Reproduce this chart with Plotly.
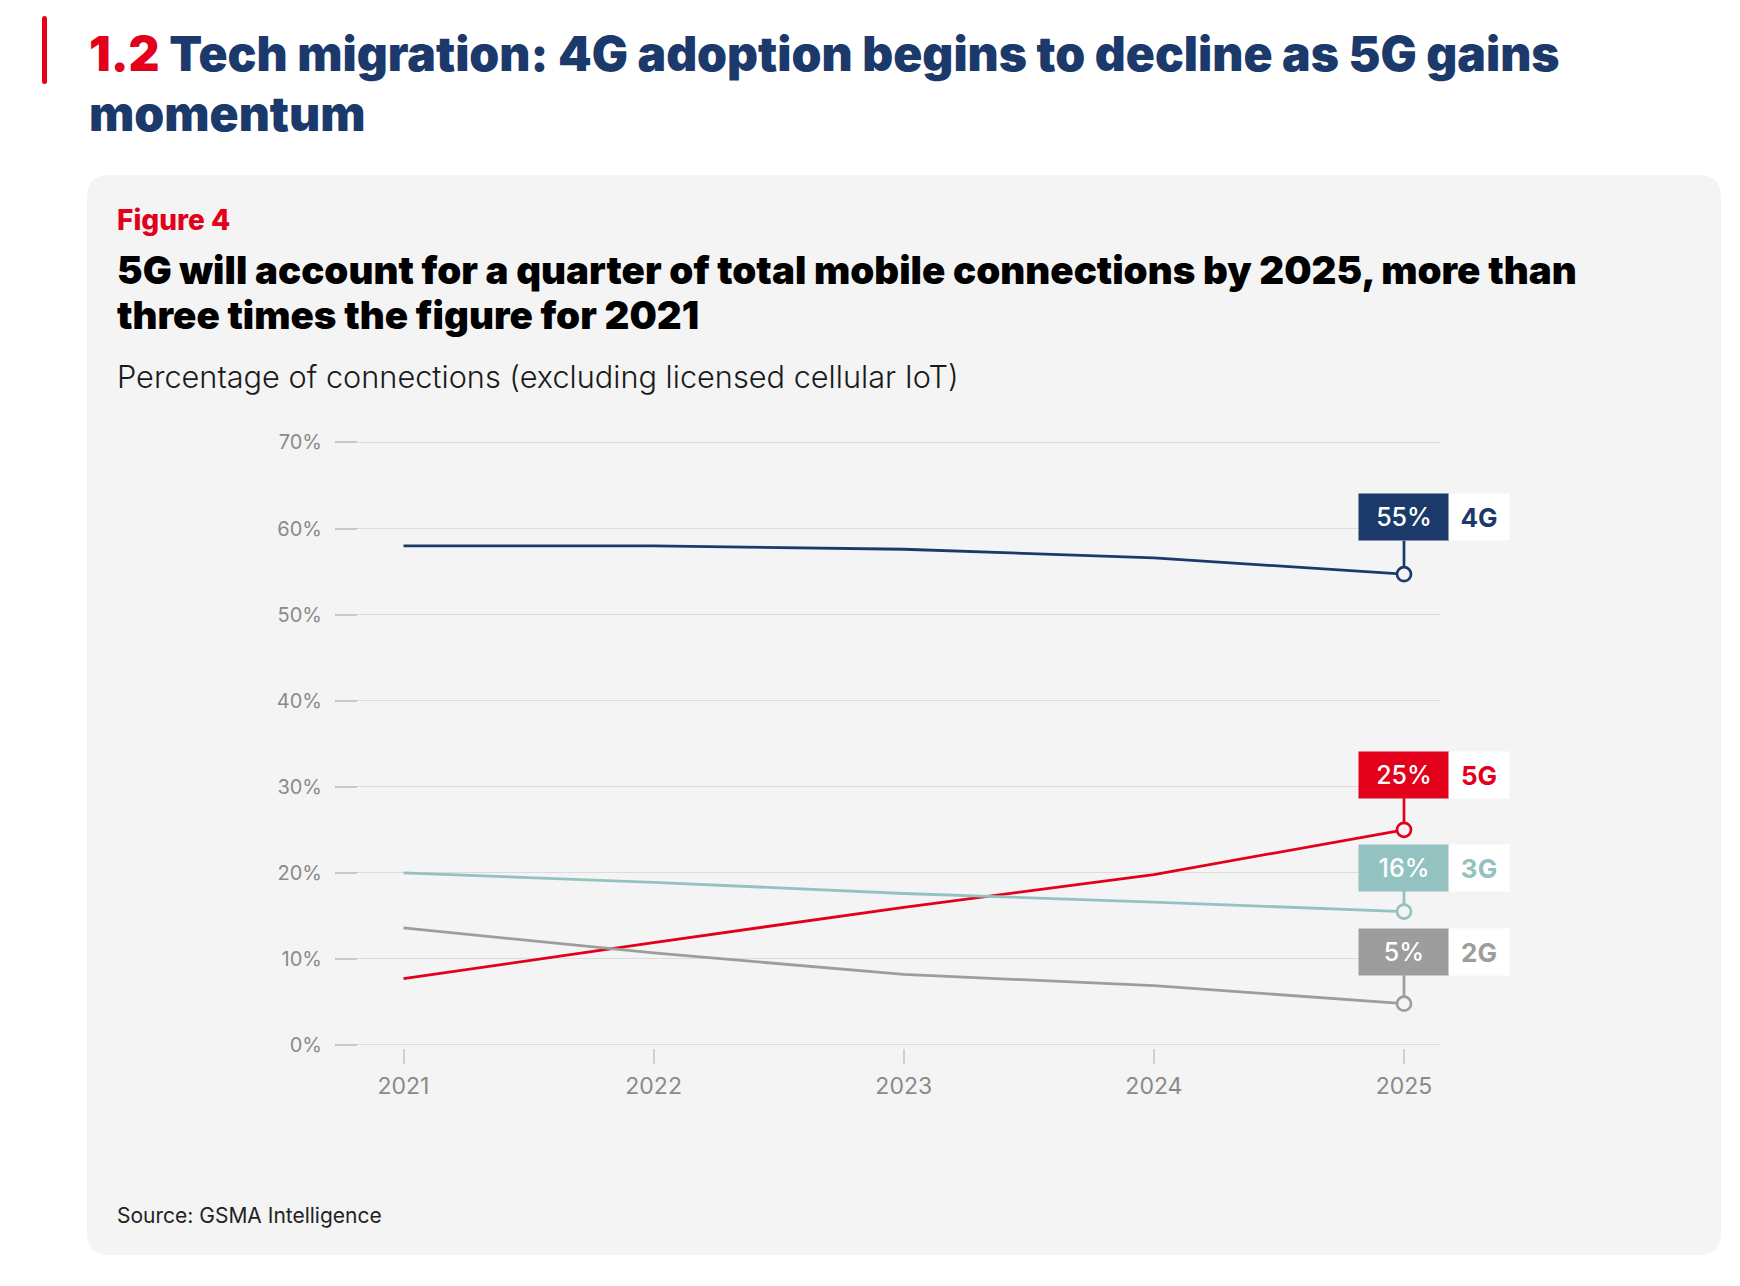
import plotly.graph_objects as go

W, H = 1740, 1286

years = [2021, 2022, 2023, 2024, 2025]
series_names = ["4G", "5G", "3G", "2G"]
share_4g = [58.0, 58.0, 57.6, 56.6, 54.7]
share_5g = [7.7, 11.9, 16.0, 19.8, 25.0]
share_3g = [20.0, 18.9, 17.6, 16.6, 15.5]
share_2g = [13.6, 10.7, 8.2, 6.9, 4.8]
end_labels = ["55%", "25%", "16%", "5%"]
y_ticks = [0, 10, 20, 30, 40, 50, 60, 70]
y_tick_labels = ["0%", "10%", "20%", "30%", "40%", "50%", "60%", "70%"]

colors = {"4G": "#1b3a6b", "5G": "#e2001a", "3G": "#93c2c1", "2G": "#9d9d9d"}
label_offset_px = {"4G": 57, "5G": 55, "3G": 44, "2G": 52}
data = {"4G": share_4g, "5G": share_5g, "3G": share_3g, "2G": share_2g}

NAVY = "#1b3a6b"
RED = "#e2001a"
PANEL = "#f4f4f4"
FONT = "Inter"


def px(x):
    return x / W


def py(y):
    return 1 - y / H


fig = go.Figure()

for name in series_names:
    fig.add_trace(go.Scatter(
        x=years, y=data[name], mode="lines", name=name,
        line=dict(color=colors[name], width=2.8),
        hoverinfo="skip", showlegend=False,
    ))
for name in series_names:
    fig.add_trace(go.Scatter(
        x=[years[-1]], y=[data[name][-1]], mode="markers",
        marker=dict(size=14, color=PANEL, line=dict(color=colors[name], width=2.7)),
        cliponaxis=False, hoverinfo="skip", showlegend=False,
    ))

annotations = []
for name, lab in zip(series_names, end_labels):
    off = label_offset_px[name]
    annotations.append(dict(
        x=years[-1], y=data[name][-1], xref="x", yref="y",
        text=lab, showarrow=True, arrowhead=0, arrowwidth=2.7,
        arrowcolor=colors[name], ax=0, ay=-off, standoff=7,
        bgcolor=colors[name], width=90, height=46, borderpad=0,
        font=dict(family=FONT, size=25, color="white", weight=500),
        align="center", valign="middle",
    ))
    annotations.append(dict(
        x=years[-1], y=data[name][-1], xref="x", yref="y",
        text=name, showarrow=False, xshift=75, yshift=off,
        bgcolor="white", width=60, height=46, borderpad=0,
        font=dict(family=FONT, size=26, color=colors[name], weight=700),
        align="center", valign="middle",
    ))

# Texts
annotations += [
    dict(x=px(87), y=py(53), xref="paper", yref="paper", xanchor="left", yanchor="middle",
         text=f'<span style="color:{RED}">1.2</span> Tech migration: 4G adoption begins to decline as 5G gains',
         showarrow=False, font=dict(family=FONT, size=48, color=NAVY, weight=900)),
    dict(x=px(87), y=py(114), xref="paper", yref="paper", xanchor="left", yanchor="middle",
         text="momentum", showarrow=False, font=dict(family=FONT, size=48, color=NAVY, weight=900)),
    dict(x=px(115), y=py(220), xref="paper", yref="paper", xanchor="left", yanchor="middle",
         text="Figure 4", showarrow=False, font=dict(family=FONT, size=28, color=RED, weight=800)),
    dict(x=px(115), y=py(270), xref="paper", yref="paper", xanchor="left", yanchor="middle",
         text="5G will account for a quarter of total mobile connections by 2025, more than",
         showarrow=False, font=dict(family=FONT, size=38.5, color="#000000", weight=900)),
    dict(x=px(115), y=py(315), xref="paper", yref="paper", xanchor="left", yanchor="middle",
         text="three times the figure for 2021",
         showarrow=False, font=dict(family=FONT, size=38.5, color="#000000", weight=900)),
    dict(x=px(115), y=py(376), xref="paper", yref="paper", xanchor="left", yanchor="middle",
         text="Percentage of connections (excluding licensed cellular IoT)",
         showarrow=False, font=dict(family=FONT, size=30.7, color="#1a1a1a", weight=300)),
    dict(x=px(115), y=py(1215), xref="paper", yref="paper", xanchor="left", yanchor="middle",
         text="Source: GSMA Intelligence",
         showarrow=False, font=dict(family=FONT, size=21, color="#222222", weight=400)),
]


def rounded_rect(x0, y0, x1, y1, r):
    pts = [
        f"M {px(x0 + r)},{py(y0)}",
        f"L {px(x1 - r)},{py(y0)}",
        f"Q {px(x1)},{py(y0)} {px(x1)},{py(y0 + r)}",
        f"L {px(x1)},{py(y1 - r)}",
        f"Q {px(x1)},{py(y1)} {px(x1 - r)},{py(y1)}",
        f"L {px(x0 + r)},{py(y1)}",
        f"Q {px(x0)},{py(y1)} {px(x0)},{py(y1 - r)}",
        f"L {px(x0)},{py(y0 + r)}",
        f"Q {px(x0)},{py(y0)} {px(x0 + r)},{py(y0)}",
        "Z",
    ]
    return " ".join(pts)


shapes = [
    dict(type="path", xref="paper", yref="paper", path=rounded_rect(87, 175, 1721, 1255, 22),
         fillcolor=PANEL, line=dict(width=0), layer="below"),
    dict(type="path", xref="paper", yref="paper", path=rounded_rect(42, 16, 47, 84, 2.5),
         fillcolor=RED, line=dict(width=0), layer="below"),
]

# plot area geometry (pixels)
x_left, x_right = 335, 1440
y0_px, y70_px = 1045, 442.5
pad = 0.3
ppp = (y0_px - y70_px) / 70.0
dom_bottom = y0_px + pad * ppp
dom_top = y70_px - pad * ppp
x2021_px, x2025_px = 403.5, 1404
x_per_year = (x2025_px - x2021_px) / 4
xr0 = 2021 - (x2021_px - x_left) / x_per_year
xr1 = 2025 + (x_right - x2025_px) / x_per_year

fig.update_layout(
    template=None,
    width=W, height=H, autosize=False,
    margin=dict(l=0, r=0, t=0, b=0, pad=0, autoexpand=False),
    paper_bgcolor="white",
    plot_bgcolor="rgba(0,0,0,0)",
    shapes=shapes,
    annotations=annotations,
    xaxis=dict(
        domain=[px(x_left), px(x_right)], range=[xr0, xr1],
        tickmode="array", tickvals=years, ticktext=[str(y) for y in years],
        ticks="outside", ticklen=15, tickwidth=2, tickcolor="#cfcfcf",
        showgrid=False, zeroline=False, showline=False, automargin=False,
        tickfont=dict(family=FONT, size=23, color="#8a8a8a"),
        ticklabelstandoff=3, fixedrange=True,
    ),
    yaxis=dict(
        domain=[py(dom_bottom), py(dom_top)], range=[-pad, 70 + pad],
        tickmode="array", tickvals=y_ticks, ticktext=y_tick_labels,
        ticks="inside", ticklen=22, tickwidth=2, tickcolor="#c8c8c8",
        showgrid=True, gridcolor="#dcdcdc", gridwidth=1.2,
        zeroline=False, showline=False, automargin=False,
        tickfont=dict(family=FONT, size=20, color="#8a8a8a"),
        ticklabelstandoff=12, fixedrange=True,
    ),
    showlegend=False,
)

fig.write_html(
    "out.html",
    config={"displayModeBar": False},
    post_script="document.body.style.margin='0';document.body.style.overflow='hidden';",
)
